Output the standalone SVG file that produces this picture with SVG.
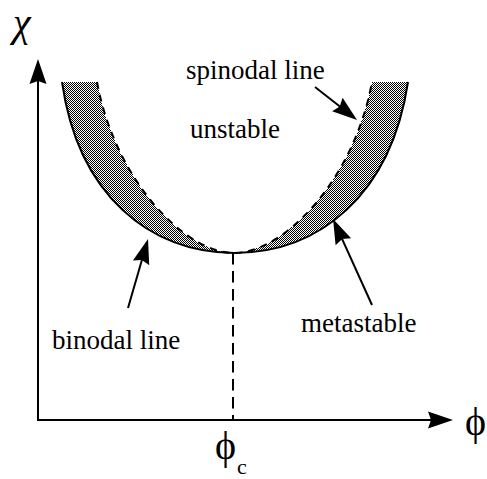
<svg xmlns="http://www.w3.org/2000/svg" width="487" height="479" viewBox="0 0 487 479">
  <style>
    .lbl { font-family: "Liberation Serif", "Times New Roman", serif; font-size: 27px; fill: #000; }
    .sym { font-family: "Liberation Serif", "DejaVu Serif", serif; fill: #000; }
    .ln { fill: none; stroke: #000; stroke-width: 2; }
    .arr { fill: none; stroke: #000; stroke-width: 2; marker-end: url(#head); }
  </style>
  <defs>
    <pattern id="chk" patternUnits="userSpaceOnUse" x="0" y="0" width="2" height="2">
      <rect width="2" height="2" fill="#fff"/>
      <rect x="0" y="0" width="1" height="1" fill="#000"/>
      <rect x="1" y="1" width="1" height="1" fill="#000"/>
    </pattern>
    <marker id="head" markerUnits="userSpaceOnUse" orient="auto" refX="0" refY="0" overflow="visible">
      <path d="M4,0 L-21,-8.5 L-18,0 L-21,8.5 Z" fill="#000"/>
    </marker>
  </defs>

  <g id="shaded-region">
    <path d="M62,82 C78,195 150,253 234,253 C185,253 115,180 97,82 Z" fill="url(#chk)" shape-rendering="crispEdges"/>
    <path d="M408,82 C391,195 319,253 234,253 C284,253 354,180 372,82 Z" fill="url(#chk)" shape-rendering="crispEdges"/>
  </g>

  <g id="curves">
    <path id="binodal" class="ln" stroke-width="2.5" d="M62,82 C78,195 150,253 234,253 C319,253 391,195 408,82"/>
    <path id="spinodal" class="ln" stroke-dasharray="7,6" d="M97,82 C115,180 185,253 234,253 C284,253 354,180 372,82"/>
    <line id="critical" class="ln" x1="233" y1="253" x2="233" y2="420" stroke-dasharray="11.5,6.5"/>
  </g>

  <g id="connectors">
    <line class="arr" x1="38" y1="420" x2="38" y2="63"/>
    <line class="arr" x1="37" y1="420" x2="449" y2="420"/>
    <line class="arr" x1="315" y1="87" x2="353.9" y2="117.5"/>
    <line class="arr" x1="128" y1="308" x2="146.9" y2="242.8"/>
    <line class="arr" x1="372" y1="305" x2="334.7" y2="222.6"/>
  </g>

  <g id="labels">
    <text class="sym" x="13" y="36" font-size="40" font-style="italic">χ</text>
    <text class="sym" x="465" y="435" font-size="40">ϕ</text>
    <text class="sym" x="215" y="459" font-size="40">ϕ</text>
    <text class="sym" x="237" y="474" font-size="22">c</text>
    <text class="lbl" x="186" y="79">spinodal line</text>
    <text class="lbl" x="190" y="138">unstable</text>
    <text class="lbl" x="52" y="349">binodal line</text>
    <text class="lbl" x="301" y="332">metastable</text>
  </g>
</svg>
